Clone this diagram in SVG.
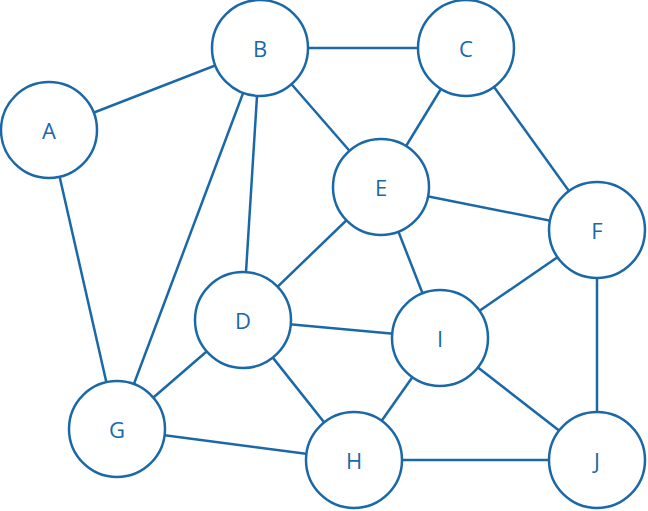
<svg xmlns="http://www.w3.org/2000/svg" width="648" height="511" viewBox="0 0 648 511">
<style>
.e line{stroke:#1a68a8;stroke-width:2.5}
.n circle{fill:#fff;stroke:#1a68a8;stroke-width:2.5}
.n text{font-family:"Open Sans",sans-serif;font-size:22px;fill:#1a68a8;text-anchor:middle;dominant-baseline:central}
</style>
<rect width="648" height="511" fill="#fff"/>
<g class="e">
<line x1="49" y1="130" x2="260" y2="48"/>
<line x1="49" y1="130" x2="117" y2="429"/>
<line x1="260" y1="48" x2="466" y2="48"/>
<line x1="260" y1="48" x2="381" y2="187"/>
<line x1="260" y1="48" x2="243" y2="320"/>
<line x1="260" y1="48" x2="117" y2="429"/>
<line x1="466" y1="48" x2="381" y2="187"/>
<line x1="466" y1="48" x2="597" y2="230"/>
<line x1="381" y1="187" x2="597" y2="230"/>
<line x1="381" y1="187" x2="243" y2="320"/>
<line x1="381" y1="187" x2="440" y2="338"/>
<line x1="597" y1="230" x2="440" y2="338"/>
<line x1="597" y1="230" x2="597" y2="460"/>
<line x1="243" y1="320" x2="440" y2="338"/>
<line x1="243" y1="320" x2="117" y2="429"/>
<line x1="243" y1="320" x2="354" y2="460"/>
<line x1="440" y1="338" x2="354" y2="460"/>
<line x1="440" y1="338" x2="597" y2="460"/>
<line x1="117" y1="429" x2="354" y2="460"/>
<line x1="354" y1="460" x2="597" y2="460"/>
</g>
<g id="A" class="n"><circle cx="49" cy="130" r="48"/><text x="49" y="130">A</text></g>
<g id="B" class="n"><circle cx="260" cy="48" r="48"/><text x="260" y="48">B</text></g>
<g id="C" class="n"><circle cx="466" cy="48" r="48"/><text x="466" y="48">C</text></g>
<g id="E" class="n"><circle cx="381" cy="187" r="48"/><text x="381" y="187">E</text></g>
<g id="F" class="n"><circle cx="597" cy="230" r="48"/><text x="597" y="230">F</text></g>
<g id="D" class="n"><circle cx="243" cy="320" r="48"/><text x="243" y="320">D</text></g>
<g id="I" class="n"><circle cx="440" cy="338" r="48"/><text x="440" y="338">I</text></g>
<g id="G" class="n"><circle cx="117" cy="429" r="48"/><text x="117" y="429">G</text></g>
<g id="H" class="n"><circle cx="354" cy="460" r="48"/><text x="354" y="460">H</text></g>
<g id="J" class="n"><circle cx="597" cy="460" r="48"/><text x="597" y="460">J</text></g>
</svg>
